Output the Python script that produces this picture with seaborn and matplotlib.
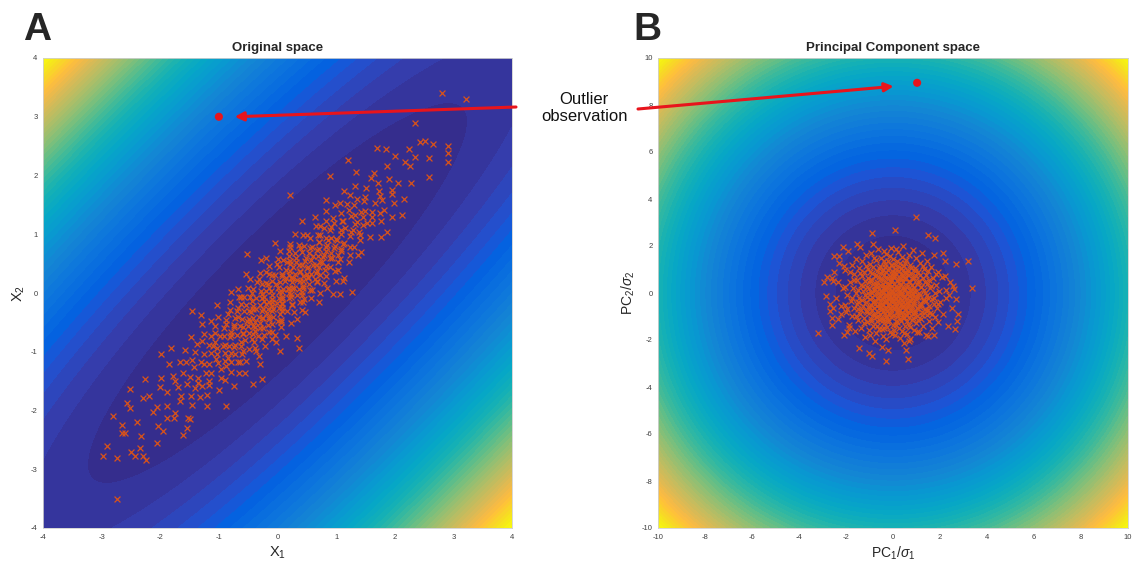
import numpy as np
import pandas as pd
import matplotlib
matplotlib.use("Agg")
import matplotlib.pyplot as plt
from matplotlib.colors import LinearSegmentedColormap
import seaborn as sns

# ---------------------------------------------------------------------------
# Data: correlated observations in the original (X1, X2) space
# ---------------------------------------------------------------------------
original_points = [
    (-2.50, -2.70), (-2.90, -2.60), (-2.25, -2.85),
    (-2.65, -2.25), (-2.33, -2.43), (-2.05, -2.55), (-2.57, -1.87), (-2.03, -2.27), (-2.13, -2.03), (-1.62, -2.42),
    (-2.20, -1.76), (-1.77, -2.13), (-1.88, -1.92), (-2.26, -1.46), (-1.52, -2.12), (-1.88, -1.68), (-1.67, -1.83),
    (-1.98, -1.44), (-1.46, -1.90), (-1.70, -1.60), (-1.48, -1.76), (-1.78, -1.42), (-1.21, -1.93), (-1.55, -1.55),
    (-1.85, -1.21), (-1.41, -1.61),
    (-1.61, -1.37), (-1.21, -1.73), (-1.49, -1.43), (-1.29, -1.59), (-1.66, -1.18), (-1.35, -1.45), (-1.82, -0.94),
    (-1.16, -1.56), (-1.42, -1.26), (-0.99, -1.65), (-1.46, -1.14), (-1.22, -1.36), (-1.57, -0.97), (-1.13, -1.37),
    (-1.25, -1.21), (-0.97, -1.45), (-1.40, -1.00), (-1.16, -1.20), (-0.74, -1.58), (-1.26, -1.04), (-0.96, -1.30),
    (-1.47, -0.75), (-1.01, -1.19), (-1.14, -1.02), (-0.79, -1.35), (-1.28, -0.82), (-1.04, -1.04), (-0.90, -1.16),
    (-1.16, -0.88), (-0.66, -1.36),
    (-1.04, -0.94), (-0.79, -1.17), (-1.25, -0.69), (-0.90, -1.02), (-1.07, -0.83), (-0.68, -1.18), (-0.93, -0.91),
    (-0.80, -1.02), (-1.28, -0.52), (-0.72, -1.04), (-1.06, -0.68), (-0.82, -0.90), (-0.54, -1.16), (-0.92, -0.74),
    (-0.61, -1.03), (-1.06, -0.56), (-0.72, -0.88), (-0.81, -0.75), (-0.63, -0.91), (-0.92, -0.60), (-0.29, -1.21),
    (-0.80, -0.66), (-0.49, -0.95), (-1.02, -0.40), (-0.69, -0.71), (-0.56, -0.80), (-0.88, -0.46), (-0.39, -0.93),
    (-0.75, -0.55), (-0.58, -0.68), (-1.04, -0.20), (-0.43, -0.79), (-0.64, -0.56), (-0.48, -0.68), (-0.72, -0.42),
    (-0.22, -0.90), (-0.81, -0.29), (-0.51, -0.57), (-0.33, -0.73), (-0.60, -0.44), (-0.38, -0.64), (-0.69, -0.31),
    (-0.56, -1.36), (-1.31, -0.37), (-0.31, -1.07),
    (-0.42, -0.56), (-0.81, -0.15), (-0.23, -0.71), (-0.48, -0.44), (-0.30, -0.60), (-0.57, -0.31), (-0.02, -0.84),
    (-0.42, -0.42), (-0.63, -0.19), (-0.29, -0.51), (-0.45, -0.33), (-0.09, -0.67), (-0.54, -0.20), (-0.32, -0.40),
    (-0.16, -0.54), (-0.62, -0.06), (-0.24, -0.42), (-0.42, -0.22), (-0.09, -0.53), (-0.67, 0.07), (-0.27, -0.31),
    (-0.15, -0.41), (-0.47, -0.07), (0.06, -0.58), (-0.30, -0.20), (-0.07, -0.41), (-0.37, -0.09), (-0.16, -0.28),
    (-0.51, 0.09), (0.06, -0.46), (-0.20, -0.18), (-0.08, -0.28), (-0.41, 0.07), (0.04, -0.36), (-0.23, -0.07),
    (0.23, -0.51), (-0.10, -0.16), (-0.28, 0.04), (0.03, -0.25), (-0.53, 0.33), (-0.01, -0.17), (-0.19, 0.03),
    (0.16, -0.30), (-0.09, -0.03), (0.07, -0.17), (-0.31, 0.23), (0.02, -0.08), (0.28, -0.32), (-0.19, 0.17),
    (-0.10, -0.78), (-0.79, 0.01), (0.15, -0.73), (-0.47, 0.23), (0.33, -0.45), (-0.47, -0.47), (-0.42, -0.28),
    (-0.18, -0.34), (-0.27, -0.09), (0.07, -0.25), (-0.15, 0.09), (-0.15, -0.67), (-0.57, -0.07), (0.06, -0.50),
    (-0.14, -0.16), (-0.26, 0.16),
    (0.08, -0.06), (-0.30, 0.34), (0.24, -0.18), (0.00, 0.08), (0.19, -0.09), (-0.09, 0.21), (0.47, -0.33),
    (0.09, 0.07), (-0.14, 0.32), (0.20, 0.00), (0.04, 0.18), (0.39, -0.15), (-0.05, 0.31), (0.19, 0.09),
    (0.33, -0.03), (-0.14, 0.46), (0.25, 0.09), (0.07, 0.29), (0.41, -0.03), (-0.19, 0.59), (0.24, 0.18),
    (0.37, 0.07), (0.02, 0.44), (0.57, -0.09), (0.19, 0.31), (0.43, 0.09), (0.14, 0.40), (0.34, 0.22),
    (0.00, 0.58), (0.55, 0.05), (0.29, 0.33), (0.43, 0.21), (0.09, 0.57), (0.53, 0.15), (0.26, 0.44),
    (0.72, 0.00), (0.39, 0.35), (0.21, 0.55), (0.52, 0.26), (-0.05, 0.85), (0.50, 0.32), (0.32, 0.52),
    (0.67, 0.19), (0.41, 0.47), (0.57, 0.33), (0.20, 0.72), (0.51, 0.43), (0.79, 0.17), (0.30, 0.68),
    (0.66, 0.34), (0.41, -0.29), (-0.28, 0.56), (0.70, -0.16), (0.04, 0.72), (0.84, 0.08), (0.02, 0.02),
    (0.23, -0.01), (0.15, 0.25), (0.38, 0.20), (0.21, 0.49), (0.64, 0.24), (-0.19, 0.35), (0.45, -0.11),
    (0.23, 0.25), (0.19, 0.63),
    (0.47, 0.55), (0.73, 0.31), (0.22, 0.84), (0.60, 0.48), (0.41, 0.69), (0.83, 0.29), (0.57, 0.57),
    (0.71, 0.45), (0.37, 0.81), (0.99, 0.21), (0.54, 0.68), (0.72, 0.52), (0.46, 0.80), (0.82, 0.46),
    (0.29, 1.01), (0.69, 0.63), (0.90, 0.44), (0.58, 0.78), (0.78, 0.62), (0.44, 0.98), (1.04, 0.40),
    (0.71, 0.75), (0.89, 0.59), (0.56, 0.94), (0.82, 0.72), (1.04, 0.52), (0.71, 0.87), (0.92, 0.68),
    (0.41, 1.23), (0.84, 0.82), (1.04, 0.64), (0.72, 0.98), (1.22, 0.52), (0.83, 0.93), (0.98, 0.80),
    (0.66, 1.14), (1.09, 0.75), (0.92, 0.94), (1.23, 0.65), (0.79, 1.11), (1.02, 0.90), (0.64, 1.30),
    (1.12, 0.84), (0.90, 1.08), (1.13, 0.25),
    (1.23, 0.79), (0.83, 1.23), (1.09, 1.01), (1.43, 0.69), (0.97, 1.19), (1.23, 0.97), (0.82, 1.40),
    (1.15, 1.11), (1.40, 0.90), (1.10, 1.22), (1.28, 1.08), (0.82, 1.58), (1.39, 1.03), (1.09, 1.37),
    (1.32, 1.18), (1.57, 0.95), (1.25, 1.31), (1.07, 1.53), (1.46, 1.16), (1.33, 1.33), (1.18, 1.52),
    (1.76, 0.96), (1.46, 1.30), (1.31, 1.49), (1.62, 1.20), (1.13, 1.73), (1.50, 1.40), (1.62, 1.30),
    (1.36, 1.60), (1.77, 1.23),
    (1.47, 1.57), (1.74, 1.36), (1.32, 1.82), (1.66, 1.54), (1.96, 1.30), (1.51, 1.79), (1.78, 1.58),
    (1.34, 2.06), (1.73, 1.73), (1.99, 1.53), (1.71, 1.87), (1.96, 1.68), (1.65, 2.05), (2.16, 1.60),
    (1.90, 1.94), (2.05, 1.87),
    (1.87, 2.17), (2.28, 1.88), (1.85, 2.45), (2.26, 2.16), (2.59, 1.97), (2.25, 2.45), (2.58, 2.30),
    (2.51, 2.59), (2.90, 2.50), (2.34, 2.90),
    # dense core of the cloud
    (-1.36, -1.54), (-1.56, -1.18), (-1.17, -1.49), (-1.31, -1.17), (-0.90, -1.48), (-1.38, -0.86),
    (-1.05, -1.13), (-0.88, -1.24), (-1.10, -0.90), (-0.84, -1.10), (-1.14, -0.74), (-0.64, -1.18),
    (-0.89, -0.89), (-0.98, -0.74), (-0.74, -0.92), (-1.13, -0.47), (-0.58, -0.98), (-0.79, -0.71),
    (-0.63, -0.83), (-0.87, -0.53), (-0.37, -0.99), (-0.74, -0.58), (-0.58, -0.70), (-0.40, -0.84),
    (-0.84, -0.36), (-0.58, -0.58), (-0.42, -0.70), (-0.67, -0.41), (-0.26, -0.78), (-0.52, -0.48),
    (-0.38, -0.58), (-0.67, -0.25), (-0.39, -0.49), (-0.24, -0.60), (-0.49, -0.31), (-0.05, -0.71),
    (-0.66, -0.06), (-0.26, -0.42), (-0.36, -0.28), (-0.15, -0.45), (-0.43, -0.13), (-0.24, -0.28),
    (0.00, -0.48), (-0.44, 0.00), (-0.09, -0.31), (-0.23, -0.13), (-0.10, -0.22), (-0.26, -0.02),
    (0.07, -0.31), (-0.10, -0.10), (-0.35, 0.19), (0.07, -0.19), (-0.11, 0.03), (0.07, -0.11),
    (-0.16, 0.16), (0.24, -0.20), (0.07, 0.01), (-0.03, 0.15), (0.23, -0.07), (-0.10, 0.30),
    (0.18, 0.06), (0.44, -0.16), (0.12, 0.20), (0.28, 0.08), (0.07, 0.33), (0.42, 0.02),
    (-0.01, 0.49), (0.27, 0.25), (0.44, 0.12), (0.22, 0.38), (0.59, 0.05), (0.16, 0.52),
    (0.43, 0.29), (0.38, 0.38), (0.52, 0.28), (0.37, 0.47), (0.67, 0.21), (0.32, 0.60),
    (0.52, 0.44), (0.21, 0.79), (0.67, 0.37), (0.48, 0.60), (0.65, 0.47), (0.39, 0.77),
    (0.81, 0.39), (0.61, 0.63), (0.76, 0.52), (0.55, 0.77), (0.98, 0.38), (0.67, 0.73),
    (0.79, 0.65), (0.50, 0.98), (0.93, 0.59), (0.70, 0.86), (0.82, 0.78), (1.06, 0.58),
    (0.69, 0.99), (0.96, 0.76), (0.86, 0.90), (1.09, 0.71), (0.72, 1.14), (1.00, 0.92),
    (1.13, 0.85), (0.92, 1.12), (1.31, 0.79), (1.08, 1.08), (0.94, 1.28), (1.25, 1.03),
    (1.11, 1.23), (1.41, 0.99), (0.98, 1.50), (1.35, 1.21), (1.22, 1.42), (1.53, 1.19),
    (1.42, 1.38), (1.24, 1.66), (1.62, 1.38), (1.49, 1.63), (1.82, 1.42), (1.75, 1.65),
    (1.60, 1.96), (1.96, 1.76), (-1.33, -1.77), (-1.74, -1.50), (-1.65, -1.75), (-2.00, -1.60),
    (-1.75, -2.05), (-2.06, -1.94), (-1.95, -2.35), (-2.40, -2.20),
    # sparse points on the fringe of the cloud
    (2.80, 3.41), (3.22, 3.31), (2.43, 2.57), (2.66, 2.54), (2.91, 2.38), (2.91, 2.23), (1.69, 2.46),
    (1.21, 2.26), (2.01, 2.34), (2.18, 2.23), (2.35, 2.31), (0.90, 2.00), (0.22, 1.66), (-0.52, 0.67),
    (-1.46, -0.31), (-2.52, -1.64), (-2.80, -2.09), (-2.97, -2.77), (-2.74, -2.80), (-2.43, -2.77),
    (-2.29, -2.77), (-2.34, -2.63), (-2.74, -3.51), (-2.66, -2.38), (-2.60, -2.38), (2.12, 1.32),
    (1.86, 1.04), (1.38, 0.64), (1.12, 0.21), (1.27, 0.01), (0.95, -0.01), (1.07, -0.01), (0.33, -0.76),
    (0.36, -0.93), (0.04, -0.98), (-0.27, -1.47), (-0.41, -1.55), (-0.87, -1.92), (-1.55, -2.30),
    (-1.49, -2.15), (-1.89, -2.12), (-2.52, -1.95), (-1.98, -1.04), (-2.29, -1.78),
]
outlier = [-1.0, 3.0]

# Gaussian model fitted to the observations
center = [0.0, 0.0]
covariance = [[1.0, 0.9],
              [0.9, 1.0]]

ticks_a = [-4, -3, -2, -1, 0, 1, 2, 3, 4]
ticks_b = [-10, -8, -6, -4, -2, 0, 2, 4, 6, 8, 10]

# ---------------------------------------------------------------------------
# PCA whitening: project onto principal axes and scale by their std devs
# ---------------------------------------------------------------------------
pts = np.asarray(original_points)
mu = np.asarray(center)
cov = np.asarray(covariance)
evals, evecs = np.linalg.eigh(cov)
order = np.argsort(evals)[::-1]
evals, evecs = evals[order], evecs[:, order]
if evecs[0, 0] < 0:
    evecs[:, 0] *= -1
if evecs[1, 1] < 0:
    evecs[:, 1] *= -1
sigmas = np.sqrt(evals)


def whiten(xy):
    return ((np.asarray(xy) - mu) @ evecs) / sigmas


scores = whiten(pts)
outlier_pc = whiten(outlier)

df_orig = pd.DataFrame({"x1": pts[:, 0], "x2": pts[:, 1]})
df_pc = pd.DataFrame({"pc1": scores[:, 0], "pc2": scores[:, 1]})

# Mahalanobis distance on a grid for each space, shaded with a power scale
shade_power = 2.3
ga = np.linspace(-4, 4, 500)
GX, GY = np.meshgrid(ga, ga)
grid = np.stack([GX.ravel(), GY.ravel()], axis=1)
wa = whiten(grid)
field_a = (np.sqrt((wa ** 2).sum(axis=1)) ** shade_power).reshape(GX.shape)

gb = np.linspace(-10, 10, 500)
BX, BY = np.meshgrid(gb, gb)
field_b = np.sqrt(BX ** 2 + BY ** 2) ** shade_power

# ---------------------------------------------------------------------------
# Styling
# ---------------------------------------------------------------------------
parula_anchors = [
    (0, (0.2081, 0.1663, 0.5292)), (3, (0.2081, 0.2386, 0.6771)),
    (6, (0.1253, 0.3242, 0.8303)), (8, (0.0117, 0.3875, 0.8820)),
    (12, (0.0498, 0.4586, 0.8641)), (16, (0.0793, 0.5200, 0.8312)),
    (20, (0.0343, 0.5966, 0.8199)), (24, (0.0228, 0.6535, 0.7768)),
    (28, (0.0843, 0.6928, 0.7062)), (32, (0.2178, 0.7250, 0.6193)),
    (36, (0.3953, 0.7459, 0.5244)), (40, (0.5709, 0.7485, 0.4494)),
    (44, (0.7184, 0.7411, 0.3905)), (48, (0.8507, 0.7299, 0.3360)),
    (52, (0.9739, 0.7314, 0.2666)), (54, (0.9990, 0.7653, 0.2164)),
    (57, (0.9697, 0.8481, 0.1475)), (60, (0.9598, 0.9218, 0.0948)),
    (63, (0.9763, 0.9831, 0.0538)),
]
parula = LinearSegmentedColormap.from_list(
    "parula", [(i / 63, c) for i, c in parula_anchors])

sns.set_theme(style="white")
plt.rcParams["font.family"] = ["Liberation Sans", "DejaVu Sans"]
plt.rcParams["mathtext.fontset"] = "custom"
plt.rcParams["mathtext.rm"] = "Liberation Sans"
plt.rcParams["mathtext.it"] = "Liberation Sans:italic"
plt.rcParams["axes.unicode_minus"] = False

marker_color = "#D95319"
red = "#E8141C"

W, H = 1136, 563
fig = plt.figure(figsize=(W / 100, H / 100), dpi=100)
ax_a = fig.add_axes([43 / W, 35 / H, 469 / W, 470 / H])
ax_b = fig.add_axes([658 / W, 35 / H, 470 / W, 470 / H])


def shade(ax, gx, gy, field):
    cs = ax.contourf(gx, gy, field, levels=60, cmap=parula)
    cs.set_edgecolor("face")
    cs.set_linewidth(0.4)


def style_axes(ax, ticks, lim):
    ax.set_xlim(-lim, lim)
    ax.set_ylim(-lim, lim)
    ax.set_xticks(ticks)
    ax.set_yticks(ticks)
    ax.tick_params(axis="both", labelsize=5.5, labelcolor="#404040",
                   direction="in", length=2.5, width=0.5, color="#888888",
                   pad=4)
    for sp in ax.spines.values():
        sp.set_color("#d0d0d0")
        sp.set_linewidth(0.6)


# --- panel A: original space ---
shade(ax_a, GX, GY, field_a)
sns.scatterplot(data=df_orig, x="x1", y="x2", ax=ax_a, marker="x",
                color=marker_color, s=18, linewidth=0.9, legend=False,
                zorder=3)
ax_a.scatter([outlier[0]], [outlier[1]], s=34, color=red, zorder=4,
             edgecolors="none")
style_axes(ax_a, ticks_a, 4)
ax_a.set_xlabel("X$_1$", fontsize=10.5, labelpad=3)
ax_a.set_ylabel("X$_2$", fontsize=10.5, labelpad=3)
ax_a.set_title("Original space", fontsize=9.5, fontweight="bold", pad=5)

# --- panel B: principal component space ---
shade(ax_b, BX, BY, field_b)
sns.scatterplot(data=df_pc, x="pc1", y="pc2", ax=ax_b, marker="x",
                color=marker_color, s=18, linewidth=0.9, legend=False,
                zorder=3)
ax_b.scatter([outlier_pc[0]], [outlier_pc[1]], s=34, color=red, zorder=4,
             edgecolors="none")
style_axes(ax_b, ticks_b, 10)
ax_b.set_xlabel("PC$_1$/$\\sigma_1$", fontsize=10, labelpad=3)
ax_b.set_ylabel("PC$_2$/$\\sigma_2$", fontsize=10, labelpad=3)
ax_b.set_title("Principal Component space", fontsize=9.5, fontweight="bold",
               pad=5)

# --- panel letters ---
fig.text(23 / W, 1 - 12 / H, "A", fontsize=28, fontweight="bold",
         ha="left", va="top")
fig.text(633 / W, 1 - 12 / H, "B", fontsize=28, fontweight="bold",
         ha="left", va="top")

# --- outlier annotation ---
fig.text(584 / W, 1 - 108 / H, "Outlier\nobservation", fontsize=12,
         ha="center", va="center", linespacing=1.15, color="#111111")
arrow_style = dict(arrowstyle="-|>", color=red, lw=2.2, mutation_scale=13,
                   shrinkA=0, shrinkB=0)
ax_a.annotate("", xy=(outlier[0] + 0.27, outlier[1]), xycoords="data",
              xytext=(516 / W, 1 - 107 / H), textcoords="figure fraction",
              arrowprops=arrow_style, annotation_clip=False, zorder=5)
ax_b.annotate("", xy=(outlier_pc[0] - 1.0, outlier_pc[1] - 0.15),
              xycoords="data",
              xytext=(638 / W, 1 - 109 / H), textcoords="figure fraction",
              arrowprops=arrow_style, annotation_clip=False, zorder=5)

fig.savefig("out.png", dpi=100, facecolor="white")
